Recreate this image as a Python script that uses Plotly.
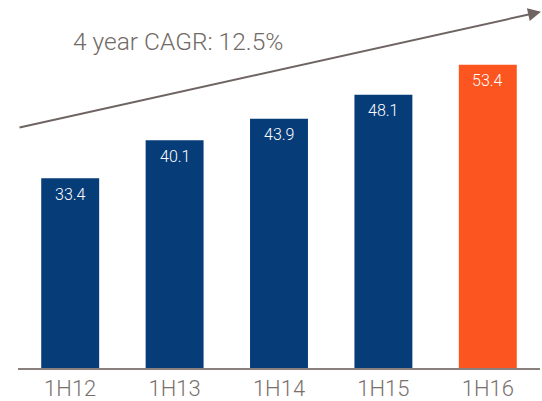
import plotly.graph_objects as go

# Half-year results, 1H12 to 1H16
periods = ["1H12", "1H13", "1H14", "1H15", "1H16"]
values = [33.4, 40.1, 43.9, 48.1, 53.4]
bar_colors = ["#063c78", "#063c78", "#063c78", "#063c78", "#fc5520"]
cagr_label = "4 year CAGR: 12.5%"

FONT = "Roboto, Liberation Sans, Arial, sans-serif"

W, H = 542, 401
ML, MR, MT, MB = 18, 2, 0, 26
plot_w = W - ML - MR
plot_h = H - MT - MB

fig = go.Figure(
    go.Bar(
        x=periods,
        y=values,
        marker=dict(color=bar_colors, line=dict(width=0)),
        width=0.555,
        hoverinfo="skip",
    )
)

# value labels just inside the top of each bar
annotations = [
    dict(
        x=p, y=v, xref="x", yref="y",
        text=f"{v:.1f}", showarrow=False,
        yanchor="middle", yshift=-16,
        font=dict(family=FONT, size=16, color="white", weight=300),
    )
    for p, v in zip(periods, values)
]

# growth arrow across the top (pixel positions converted to paper units)
def px_x(x):
    return (x - ML) / plot_w

def px_y(y):
    return (H - MB - y) / plot_h

annotations.append(
    dict(
        x=px_x(541), y=px_y(12), xref="paper", yref="paper",
        ax=18 - 541, ay=128 - 12, axref="pixel", ayref="pixel",
        text="", showarrow=True,
        arrowhead=2, arrowsize=1.3, arrowwidth=2, arrowcolor="#6e6562",
    )
)
annotations.append(
    dict(
        x=px_x(71), y=px_y(42), xref="paper", yref="paper",
        text=cagr_label, showarrow=False,
        xanchor="left", yanchor="middle",
        font=dict(family=FONT, size=24.5, color="#726a66", weight=300),
    )
)

fig.update_layout(
    width=W, height=H,
    margin=dict(l=ML, r=MR, t=MT, b=MB, pad=0),
    paper_bgcolor="white",
    plot_bgcolor="white",
    showlegend=False,
    annotations=annotations,
    xaxis=dict(
        showline=True, linecolor="#8a817d", linewidth=2,
        showgrid=False, zeroline=False, ticks="",
        tickfont=dict(family=FONT, size=22, color="#7a716d", weight=300),
        fixedrange=True,
    ),
    yaxis=dict(
        range=[0, 64.8], visible=False, showgrid=False, zeroline=False,
        fixedrange=True,
    ),
)

fig.write_html("out.html", config={"displayModeBar": False})
